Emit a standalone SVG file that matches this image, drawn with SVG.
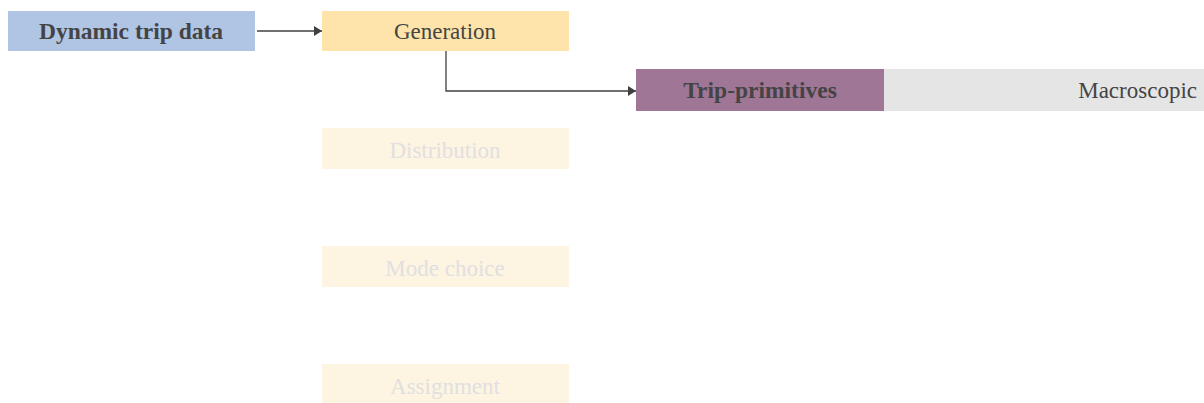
<svg xmlns="http://www.w3.org/2000/svg" width="1204" height="403" viewBox="0 0 1204 403">
  <style>
    text { font-family: "Liberation Serif", "DejaVu Serif", serif; font-size: 23px; fill: #444444; dominant-baseline: central; }
    .bold { font-weight: bold; font-size: 23.5px; }
    .faded rect { fill: #fef4e2; }
    .faded text { fill: #e0e0e0; }
    .conn { fill: none; stroke: #404040; stroke-width: 1.3; }
  </style>
  <defs>
    <marker id="arrow" markerWidth="8" markerHeight="10" refX="8" refY="5" orient="auto" markerUnits="userSpaceOnUse">
      <path d="M0,0 L8,5 L0,10 Z" fill="#404040"/>
    </marker>
  </defs>

  <g id="dynamic-trip-data">
    <rect x="8" y="11" width="247" height="40" fill="#b0c4e4"/>
    <text class="bold" x="131" y="31" text-anchor="middle">Dynamic trip data</text>
  </g>

  <g id="generation">
    <rect x="322" y="11" width="247" height="40" fill="#fee4ab"/>
    <text x="445" y="31" text-anchor="middle">Generation</text>
  </g>

  <g id="trip-primitives">
    <rect x="636" y="69" width="248" height="42" fill="#a07696"/>
    <text class="bold" x="760" y="90" text-anchor="middle">Trip-primitives</text>
  </g>

  <g id="macroscopic">
    <rect x="884" y="69" width="320" height="42" fill="#e5e5e5"/>
    <text x="1197" y="90" text-anchor="end">Macroscopic</text>
  </g>

  <g id="distribution" class="faded">
    <rect x="322" y="128" width="247" height="41"/>
    <text x="445" y="150" text-anchor="middle">Distribution</text>
  </g>

  <g id="mode-choice" class="faded">
    <rect x="322" y="246" width="247" height="41"/>
    <text x="445" y="268" text-anchor="middle">Mode choice</text>
  </g>

  <g id="assignment" class="faded">
    <rect x="322" y="364" width="247" height="41"/>
    <text x="445" y="386" text-anchor="middle">Assignment</text>
  </g>

  <g id="connectors">
    <path class="conn" d="M257,31 L322,31" marker-end="url(#arrow)"/>
    <path class="conn" d="M446,51 L446,91 L636,91" marker-end="url(#arrow)"/>
  </g>
</svg>
